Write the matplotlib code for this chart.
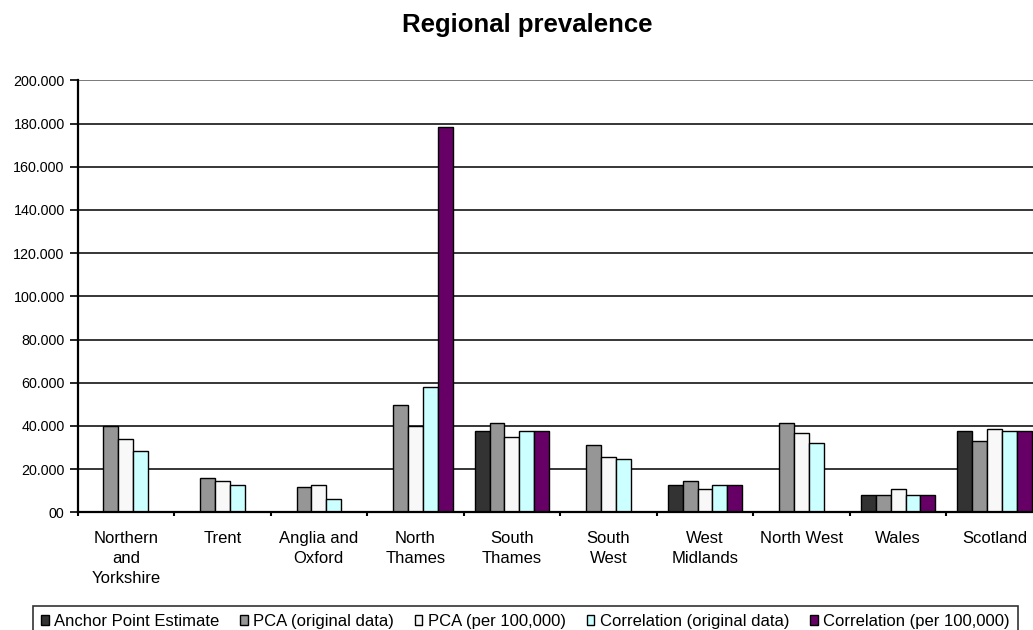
import numpy as np
import matplotlib
matplotlib.use("Agg")
import matplotlib.pyplot as plt
from matplotlib.patches import Patch
from matplotlib.ticker import FixedLocator, FixedFormatter

plt.rcParams["font.family"] = ["Liberation Sans", "DejaVu Sans"]

regions = ["Northern\nand\nYorkshire", "Trent", "Anglia and\nOxford", "North\nThames",
           "South\nThames", "South\nWest", "West\nMidlands", "North West", "Wales", "Scotland"]

series_names = ["Anchor Point Estimate", "PCA (original data)", "PCA (per 100,000)",
                "Correlation (original data)", "Correlation (per 100,000)"]

nan = np.nan
anchor_point = [nan, nan, nan, nan, 37.8, nan, 12.7, nan, 8.1, 37.8]
pca_original = [40.0, 15.7, 11.8, 49.8, 41.5, 31.2, 14.6, 41.5, 8.1, 33.1]
pca_per_100k = [33.8, 14.4, 12.7, 40.0, 34.9, 25.7, 10.9, 36.9, 11.0, 38.7]
corr_original = [28.4, 12.7, 6.3, 58.0, 37.8, 24.7, 12.7, 32.3, 8.1, 37.7]
corr_per_100k = [nan, nan, nan, 178.5, 37.8, nan, 12.7, nan, 8.1, 37.8]

y_ticks = [0, 20, 40, 60, 80, 100, 120, 140, 160, 180, 200]
y_tick_labels = ["00", "20.000", "40.000", "60.000", "80.000", "100.000",
                 "120.000", "140.000", "160.000", "180.000", "200.000"]

colors = ["#333333", "#969696", "#F8F8F8", "#CCFFFF", "#660066"]

W, H = 1033, 630
fig = plt.figure(figsize=(W / 100, H / 100), dpi=100)
fig.patch.set_facecolor("white")

# plot area runs slightly past the right edge of the canvas
left_px, right_px, top_px, bottom_px = 77.5, 1042.9, 80.3, 512.3
ax = fig.add_axes([left_px / W, 1 - bottom_px / H,
                   (right_px - left_px) / W, (bottom_px - top_px) / H])

all_series = [anchor_point, pca_original, pca_per_100k, corr_original, corr_per_100k]
x = np.arange(len(regions))
bw = 0.154
for i, (vals, col) in enumerate(zip(all_series, colors)):
    vals = np.asarray(vals, dtype=float)
    ok = ~np.isnan(vals)
    ax.bar(x[ok] + (i - 2) * bw, vals[ok], width=bw, color=col,
           edgecolor="black", linewidth=1.0, zorder=3)

ax.set_xlim(-0.5, len(regions) - 0.5)
ax.set_ylim(0, 200)

# horizontal gridlines
for yv in y_ticks[1:-1]:
    ax.axhline(yv, color="black", linewidth=1.1, zorder=1)
ax.axhline(200, color="#707070", linewidth=1.3, zorder=1)

for side in ["top", "right"]:
    ax.spines[side].set_visible(False)
for side in ["left", "bottom"]:
    ax.spines[side].set_linewidth(1.6)
    ax.spines[side].set_color("black")
    ax.spines[side].set_zorder(4)

ax.yaxis.set_major_locator(FixedLocator(y_ticks))
ax.yaxis.set_major_formatter(FixedFormatter(y_tick_labels))
ax.tick_params(axis="y", direction="out", length=6, width=1.2, pad=3.2,
               labelsize=10.3, colors="black")

# category boundaries as ticks, names centred in each group
ax.xaxis.set_major_locator(FixedLocator(np.arange(len(regions) + 1) - 0.5))
ax.xaxis.set_major_formatter(FixedFormatter([""] * (len(regions) + 1)))
ax.xaxis.set_minor_locator(FixedLocator(x))
ax.xaxis.set_minor_formatter(FixedFormatter(regions))
ax.tick_params(axis="x", which="major", direction="out", length=3, width=1.5)
ax.tick_params(axis="x", which="minor", length=0, pad=13.5, labelsize=12)
for lbl in ax.get_xticklabels(minor=True):
    lbl.set_multialignment("center")
    lbl.set_linespacing(1.42)

fig.text(527.5 / W, 1 - 32.3 / H, "Regional prevalence", ha="center",
         va="baseline", fontsize=18.5, fontweight="bold")

handles = [Patch(facecolor=c, edgecolor="black", linewidth=1.0) for c in colors]
leg = fig.legend(handles, series_names, loc="upper left",
                 bbox_to_anchor=(33 / W, 1 - 606 / H), ncol=5, fontsize=12,
                 frameon=True, fancybox=False, shadow=False,
                 handlelength=0.44, handleheight=0.54, handletextpad=0.34,
                 columnspacing=1.25, borderpad=0.5, borderaxespad=0)
leg.get_frame().set_edgecolor("black")
leg.get_frame().set_linewidth(1.2)

fig.savefig("out.png", dpi=100, facecolor="white")
